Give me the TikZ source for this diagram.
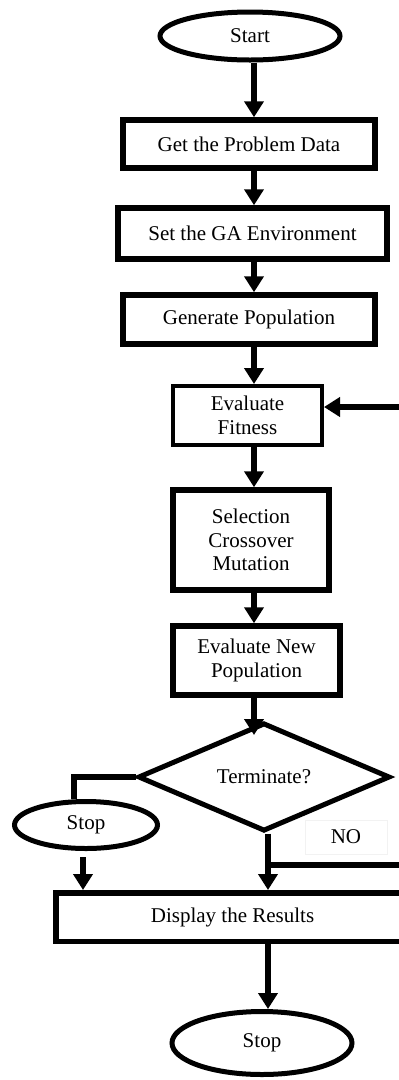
\documentclass[tikz,border=0pt]{standalone}
\usepackage{fontspec}
\setmainfont{Liberation Serif}
\usetikzlibrary{shapes.geometric,arrows.meta}
\begin{document}
\begin{tikzpicture}[x=1pt,y=-1pt,
  txt/.style={font=\fontsize{21}{23.5}\selectfont, align=center, inner sep=0pt},
  box/.style={txt, draw, rectangle, line width=5.5pt},
  thinbox/.style={txt, draw, rectangle, line width=4pt},
  oval/.style={txt, draw, ellipse, line width=5pt},
  decision/.style={txt, draw, diamond, line width=5pt},
  arr/.style={line width=6pt, -{Triangle[width=19pt,length=16pt]}},
  link/.style={line width=6pt}]
\useasboundingbox (0,0) rectangle (399,1080);
\clip (0,0) rectangle (399,1080);

\node[oval, minimum width=180pt, minimum height=48pt] (start) at (250,36) {Start};
\node[box, minimum width=252pt, minimum height=48pt] (get) at (249,144) {Get the Problem Data};
\node[box, minimum width=269pt, minimum height=51pt] (set) at (252.5,233.5) {Set the GA Environment};
\node[box, minimum width=252pt, minimum height=49pt] (gen) at (249,319.5) {Generate Population};
\node[thinbox, minimum width=149pt, minimum height=59pt] (fit) at (247.5,415.5) {Evaluate\\Fitness};
\node[box, minimum width=156pt, minimum height=100pt] (sel) at (251,540) {Selection\\Crossover\\Mutation};
\node[box, minimum width=167pt, minimum height=69pt] (enp) at (256.5,660.5) {Evaluate New\\Population};
\node[decision, minimum width=252pt, minimum height=82pt] (dia) at (264,777) {Terminate?};
\node[oval, minimum width=143pt, minimum height=47pt] (stopL) at (86,825) {Stop};
\node[txt, draw=black!5, line width=0.6pt, minimum width=82pt, minimum height=34pt] (no) at (346,837) {NO};
\node[box, minimum width=353pt, minimum height=48.5pt] (disp) at (232.5,917) {Display the Results};
\node[oval, minimum width=180pt, minimum height=63pt] (stopB) at (262,1043) {Stop};

\draw[arr] (start.south -| 254,0) -- (get.north -| 254,0);
\draw[arr] (get.south -| 254,0) -- (set.north -| 254,0);
\draw[arr] (set.south -| 254,0) -- (gen.north -| 254,0);
\draw[arr] (gen.south -| 254,0) -- (fit.north -| 254,0);
\draw[arr] (fit.south -| 254,0) -- (sel.north -| 254,0);
\draw[arr] (sel.south -| 254,0) -- (enp.north -| 254,0);
\draw[arr] (enp.south -| 254,0) -- (254,735);

\coordinate (lb) at (74,777);
\draw[link] (dia.west) -- (lb) -- (lb |- stopL.north);
\draw[arr] (83,857) -- (disp.north -| 83,0);

\coordinate (jn) at (268,865);
\draw[arr] (dia.south -| jn) -- (disp.north -| jn);
\draw[link] (jn) -- (412,865) -- (412,407);
\draw[arr] (414,407) -- (fit.east |- 0,407);

\draw[arr] (disp.south -| jn) -- (stopB.north -| jn);
\end{tikzpicture}
\end{document}
